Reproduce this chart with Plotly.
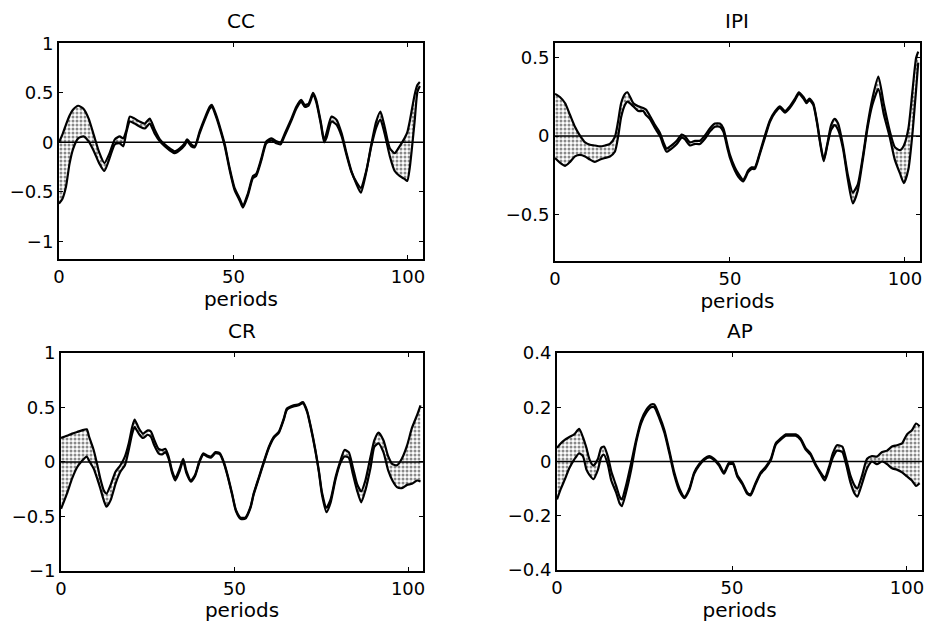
import plotly.graph_objects as go
from plotly.subplots import make_subplots

# ---------------- data ----------------
cc_t = [0, 1, 2, 3, 4, 5.5, 7, 8.5, 10, 11.5, 13, 14.5, 16, 17.4, 18.4, 19.3, 20.3, 21.7, 23.1, 24.6,
        26, 27.4, 28.9, 30.3, 31.7, 33.2, 34.6, 36, 36.7, 37.9, 38.9, 40.3, 41.7, 43.2, 43.8, 45,
        46.5, 47.5, 48.9, 50.3, 51.8, 52.7, 54.1, 55.6, 56.5, 58, 59.4, 60.9, 62.3, 63.5, 64.7,
        66.6, 68, 69.4, 70.4, 71.5, 72.8, 73.7, 75, 76, 76.7, 78.1, 79.5, 81, 82.4, 83.8, 85.2,
        86.5, 88.1, 89.5, 90.9, 92.1, 93.3, 94.8, 96.2, 97.6, 99, 99.8, 100.5, 101.9, 102.7, 103.4]
cc_upper = [0.00, 0.08, 0.18, 0.27, 0.33, 0.37, 0.34, 0.24, 0.07, -0.10, -0.21, -0.11, 0.03, 0.06,
            0.04, 0.12, 0.26, 0.24, 0.21, 0.19, 0.24, 0.13, 0.03, -0.02, -0.06, -0.09, -0.06, -0.01,
            0.03, -0.02, -0.04, 0.11, 0.24, 0.36, 0.38, 0.28, 0.11, -0.02, -0.26, -0.46, -0.57, -0.64,
            -0.52, -0.34, -0.32, -0.16, 0.01, 0.04, 0.01, 0.00, 0.09, 0.24, 0.36, 0.43, 0.38, 0.39,
            0.50, 0.43, 0.21, 0.02, 0.10, 0.26, 0.23, 0.09, -0.11, -0.29, -0.42, -0.51, -0.29, -0.02,
            0.21, 0.31, 0.16, -0.06, -0.11, -0.04, 0.04, 0.10, 0.21, 0.48, 0.58, 0.61]
cc_lower = [-0.62, -0.57, -0.45, -0.22, -0.07, 0.04, 0.06, 0.01, -0.09, -0.21, -0.29, -0.16, -0.02,
            -0.01, -0.04, 0.10, 0.21, 0.19, 0.16, 0.14, 0.19, 0.09, 0.01, -0.04, -0.08, -0.11, -0.08,
            -0.03, 0.01, -0.04, -0.05, 0.09, 0.22, 0.34, 0.36, 0.26, 0.09, -0.04, -0.28, -0.48, -0.59,
            -0.66, -0.54, -0.36, -0.34, -0.18, -0.01, 0.02, -0.01, -0.02, 0.07, 0.22, 0.34, 0.41, 0.36,
            0.37, 0.48, 0.41, 0.19, 0.00, 0.05, 0.21, 0.18, 0.06, -0.13, -0.30, -0.40, -0.46, -0.28,
            -0.04, 0.15, 0.23, 0.09, -0.14, -0.29, -0.34, -0.37, -0.39, -0.26, 0.21, 0.51, 0.57]

ipi_t = [0, 1.4, 2.9, 4.3, 5.7, 7.1, 8.6, 10, 11.4, 12.9, 14.3, 15.7, 17.1, 18, 18.9, 20, 20.7, 22.4,
         23.8, 25.2, 26, 27.1, 28.6, 30, 31, 31.9, 33.3, 34.8, 36.2, 37.1, 38.6, 40, 41.4, 42.9, 44.3,
         45.7, 47.1, 48.1, 49.3, 50, 51.4, 52.4, 53.8, 55.2, 56.2, 57.1, 58.6, 60, 61.4, 62.9, 64.3,
         65.7, 67.1, 68.6, 69.7, 71, 71.9, 72.7, 73.8, 74.9, 75.8, 76.8, 77.9, 78.9, 79.9, 80.9, 82.3,
         83.7, 85.1, 86.5, 87.9, 89.3, 90.7, 92.4, 94, 95.7, 97.1, 98.6, 99.7, 101, 102.2, 103.2, 103.8]
ipi_upper = [0.27, 0.25, 0.21, 0.135, 0.06, 0.005, -0.04, -0.055, -0.06, -0.066, -0.06, -0.05, -0.006,
             0.09, 0.21, 0.27, 0.28, 0.21, 0.19, 0.18, 0.17, 0.13, 0.07, 0.02, -0.04, -0.08, -0.06,
             -0.03, 0.01, 0.00, -0.04, -0.03, -0.03, 0.005, 0.05, 0.08, 0.08, 0.05, -0.06, -0.12, -0.20,
             -0.24, -0.28, -0.22, -0.20, -0.20, -0.10, 0.005, 0.10, 0.16, 0.19, 0.16, 0.19, 0.24, 0.28,
             0.25, 0.22, 0.24, 0.21, 0.09, -0.04, -0.15, -0.04, 0.07, 0.11, 0.08, -0.06, -0.25, -0.36,
             -0.31, -0.14, 0.07, 0.24, 0.38, 0.20, 0.03, -0.07, -0.09, -0.06, 0.05, 0.30, 0.50, 0.54]
ipi_lower = [-0.14, -0.17, -0.19, -0.165, -0.13, -0.12, -0.13, -0.15, -0.165, -0.15, -0.14, -0.13,
             -0.10, -0.01, 0.12, 0.20, 0.22, 0.19, 0.16, 0.16, 0.135, 0.11, 0.05, 0.00, -0.06, -0.10,
             -0.08, -0.05, -0.01, -0.02, -0.06, -0.05, -0.05, -0.015, 0.03, 0.06, 0.06, 0.03, -0.08,
             -0.14, -0.22, -0.26, -0.29, -0.23, -0.21, -0.21, -0.11, -0.01, 0.09, 0.15, 0.18, 0.15,
             0.18, 0.23, 0.27, 0.24, 0.21, 0.23, 0.20, 0.08, -0.05, -0.16, -0.05, 0.04, 0.07, 0.04,
             -0.08, -0.28, -0.43, -0.35, -0.16, 0.05, 0.20, 0.30, 0.135, -0.01, -0.15, -0.24, -0.30,
             -0.21, 0.03, 0.30, 0.47]

cr_t = [0, 1.7, 3.2, 4.6, 6, 7.4, 8.1, 9.4, 10.4, 11.3, 12.3, 13.1, 14.3, 15.7, 17.1, 18.4, 19.5, 20.5,
        21.2, 22.4, 23.6, 25, 25.9, 26.9, 28.1, 29.1, 30.1, 31, 32, 32.9, 34.2, 35.2, 36.1, 37.4, 38.6,
        39.9, 41, 42.1, 43.2, 44.5, 45.8, 46.9, 48, 49.3, 50.4, 51.7, 53.1, 54.6, 55.5, 57, 58.4, 59.9,
        61.3, 62.8, 64.2, 65.1, 67, 68.5, 69.7, 70.9, 72, 73.3, 74.3, 75.2, 76.5, 77.7, 79.1, 80.5,
        81.7, 82.9, 84.1, 85.3, 86.5, 87.7, 89.2, 90.3, 91.5, 92.9, 94.3, 95.5, 96.8, 98.2, 99.7,
        101.1, 102.6, 103.6]
cr_upper = [0.22, 0.24, 0.26, 0.275, 0.29, 0.30, 0.23, 0.11, -0.02, -0.15, -0.26, -0.29, -0.21, -0.09,
            -0.03, 0.05, 0.17, 0.32, 0.39, 0.31, 0.26, 0.29, 0.28, 0.20, 0.12, 0.11, 0.12, 0.05, -0.08,
            -0.15, -0.06, 0.03, -0.08, -0.17, -0.12, 0.01, 0.08, 0.06, 0.05, 0.09, 0.08, 0.00, -0.12,
            -0.29, -0.44, -0.51, -0.51, -0.41, -0.29, -0.14, 0.00, 0.14, 0.23, 0.28, 0.40, 0.49, 0.52,
            0.53, 0.55, 0.47, 0.32, 0.11, -0.08, -0.28, -0.42, -0.34, -0.14, 0.01, 0.11, 0.09, -0.05,
            -0.20, -0.27, -0.17, 0.05, 0.20, 0.27, 0.20, 0.05, -0.02, -0.03, 0.03, 0.15, 0.31, 0.43, 0.52]
cr_lower = [-0.43, -0.29, -0.15, -0.05, 0.01, 0.05, 0.01, -0.06, -0.15, -0.24, -0.35, -0.41, -0.35,
            -0.20, -0.09, -0.03, 0.11, 0.26, 0.32, 0.26, 0.22, 0.25, 0.23, 0.15, 0.08, 0.07, 0.09, 0.03,
            -0.10, -0.17, -0.08, 0.01, -0.10, -0.18, -0.13, 0.00, 0.07, 0.05, 0.04, 0.08, 0.07, -0.01,
            -0.13, -0.30, -0.45, -0.52, -0.52, -0.42, -0.30, -0.15, -0.01, 0.13, 0.22, 0.27, 0.39, 0.48,
            0.51, 0.52, 0.54, 0.46, 0.31, 0.10, -0.09, -0.30, -0.46, -0.37, -0.16, -0.01, 0.05, 0.04,
            -0.11, -0.26, -0.37, -0.26, -0.05, 0.14, 0.17, 0.09, -0.08, -0.17, -0.23, -0.24, -0.21,
            -0.20, -0.17, -0.18]

ap_t = [0, 1.1, 2.2, 3.5, 4.9, 6.3, 7.4, 8.4, 9.3, 10.4, 11.7, 12.6, 13.4, 14.5, 15.5, 16.9, 17.9, 18.5,
        19.7, 21.2, 22.6, 24, 25.5, 26.9, 27.8, 29.2, 30.7, 32.1, 33.5, 35, 36.4, 37.8, 39.2, 40.6, 42,
        43.5, 44.9, 46.3, 47.7, 49.1, 50.3, 51.5, 53, 54.4, 55.3, 56.7, 58.2, 59.6, 61.1, 62.5, 63.9,
        65.4, 66.8, 68.2, 69.6, 71, 72.4, 73.9, 75.3, 76.5, 77.7, 78.8, 80, 81.5, 82.6, 83.8, 85.1,
        85.8, 87.2, 88.6, 90, 91.4, 92.9, 94.3, 95.7, 97.1, 98.6, 100, 101.4, 102.6, 103.6]
ap_upper = [0.05, 0.067, 0.08, 0.09, 0.10, 0.12, 0.09, 0.05, 0.007, -0.015, 0.01, 0.05, 0.055, 0.02,
            -0.036, -0.09, -0.13, -0.14, -0.09, -0.005, 0.08, 0.15, 0.19, 0.21, 0.21, 0.17, 0.115, 0.04,
            -0.04, -0.10, -0.13, -0.10, -0.04, -0.01, 0.01, 0.02, 0.01, -0.01, -0.04, -0.005, -0.005,
            -0.05, -0.08, -0.115, -0.12, -0.08, -0.04, -0.02, 0.01, 0.067, 0.085, 0.10, 0.10, 0.10,
            0.085, 0.05, 0.03, -0.01, -0.04, -0.06, -0.02, 0.03, 0.06, 0.055, 0.01, -0.05, -0.09, -0.10,
            -0.05, 0.01, 0.02, 0.018, 0.035, 0.04, 0.055, 0.06, 0.067, 0.10, 0.115, 0.14, 0.13]
ap_lower = [-0.14, -0.10, -0.067, -0.025, 0.007, 0.03, 0.02, -0.03, -0.05, -0.065, -0.03, 0.015, 0.025,
            -0.01, -0.07, -0.115, -0.155, -0.165, -0.115, -0.03, 0.07, 0.14, 0.18, 0.20, 0.20, 0.16,
            0.105, 0.03, -0.05, -0.11, -0.135, -0.105, -0.045, -0.015, 0.005, 0.015, 0.005, -0.015,
            -0.045, -0.01, -0.01, -0.055, -0.085, -0.12, -0.125, -0.085, -0.045, -0.025, 0.005, 0.062,
            0.08, 0.095, 0.095, 0.095, 0.08, 0.045, 0.025, -0.015, -0.045, -0.07, -0.03, 0.015, 0.04,
            0.035, -0.01, -0.075, -0.12, -0.13, -0.08, -0.025, 0.00, -0.01, 0.00, -0.01, -0.025, -0.03,
            -0.04, -0.055, -0.07, -0.09, -0.08]

titles = ["CC", "IPI", "CR", "AP"]
x_ticks = [0, 50, 100]
cc_yticks = [-1, -0.5, 0, 0.5, 1]
ipi_yticks = [-0.5, 0, 0.5]
cr_yticks = [-1, -0.5, 0, 0.5, 1]
ap_yticks = [-0.4, -0.2, 0, 0.2, 0.4]

# ---------------- figure ----------------
FONT = "DejaVu Sans"
fig = make_subplots(rows=2, cols=2)

panels = [
    (cc_t, cc_upper, cc_lower, 1, 1, [-1.18, 1.005], cc_yticks,
     [0.0635, 0.4553], [0.5836, 0.9309]),
    (ipi_t, ipi_upper, ipi_lower, 1, 2, [-0.798, 0.595], ipi_yticks,
     [0.5974, 0.9903], [0.5804, 0.9309]),
    (cr_t, cr_upper, cr_lower, 2, 1, [-1.0, 1.0], cr_yticks,
     [0.0657, 0.4553], [0.0820, 0.4325]),
    (ap_t, ap_upper, ap_lower, 2, 2, [-0.4, 0.4], ap_yticks,
     [0.5996, 0.9925], [0.0836, 0.4325]),
]

line_style = dict(color="black", width=2.2, shape="spline", smoothing=0.6)

for i, (t, up, lo, r, c, yr, yt, xd, yd) in enumerate(panels):
    fig.add_trace(go.Scatter(x=t, y=lo, mode="lines", line=line_style,
                             hoverinfo="skip", showlegend=False), row=r, col=c)
    fig.add_trace(go.Scatter(x=t, y=up, mode="lines", line=line_style,
                             fill="tonexty", fillcolor="white",
                             fillpattern=dict(shape=".", fgcolor="#111111", bgcolor="white",
                                              size=4, solidity=0.45),
                             hoverinfo="skip", showlegend=False), row=r, col=c)
    fig.add_hline(y=0, line=dict(color="black", width=1.5), row=r, col=c)
    ax = dict(showline=True, linecolor="black", linewidth=2, mirror="ticks",
              ticks="inside", ticklen=4, tickwidth=1.2, tickcolor="black",
              showgrid=False, zeroline=False, automargin=False,
              tickfont=dict(family=FONT, size=18, color="black"))
    fig.update_xaxes(ax, range=[0, 104.3], tickvals=x_ticks, domain=xd,
                     title=dict(text="periods", font=dict(family=FONT, size=20, color="black"),
                                standoff=2),
                     row=r, col=c)
    fig.update_yaxes(ax, range=yr, tickvals=yt, domain=yd, row=r, col=c)
    fig.add_annotation(text=titles[i], xref="paper", yref="paper",
                       x=(xd[0] + xd[1]) / 2, y=yd[1] + 0.035, xanchor="center",
                       yanchor="middle", showarrow=False,
                       font=dict(family=FONT, size=20, color="black"))

fig.update_layout(width=929, height=622, margin=dict(l=0, r=0, t=0, b=0),
                  paper_bgcolor="white", plot_bgcolor="white", showlegend=False)

fig.write_html("out.html")
